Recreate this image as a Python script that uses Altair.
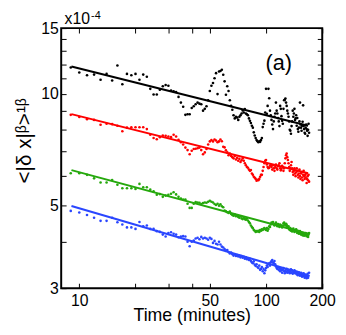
import altair as alt
import pandas as pd

# ---- data (values in units of 1e-4) ----
time_min = [9, 10, 11, 12, 13, 14, 15, 16, 17, 18,
            19, 20, 21, 22, 23, 24, 25, 26, 27, 28,
            29, 30, 31, 32, 33, 34, 35, 36, 37, 38,
            39, 40, 41, 42, 43, 44, 45, 46, 47, 48,
            49, 50, 51, 52, 53, 54, 55, 56, 57, 58,
            59, 60, 61, 62, 63, 64, 65, 66, 67, 68,
            69, 70, 71, 72, 73, 74, 75, 76, 77, 78,
            79, 80, 81, 82, 83, 84, 85, 86, 87, 88,
            89, 90, 91, 92, 93, 94, 95, 96, 97, 98,
            99, 100, 101, 102, 103, 104, 105, 106, 107, 108,
            109, 110, 111, 112, 113, 114, 115, 116, 117, 118,
            119, 120, 121, 122, 123, 124, 125, 126, 127, 128,
            129, 130, 131, 132, 133, 134, 135, 136, 137, 138,
            139, 140, 141, 142, 143, 144, 145, 146, 147, 148,
            149, 150, 151, 152, 153, 154, 155, 156, 157, 158,
            159, 160, 161, 162, 163, 164, 165, 166, 167, 168,
            169, 170]

black = [11.75, 11.4, 11.2, 11.25, 10.9, 11.3, 10.85, 11.9, 10.6, 11.3,
         11.2, 11.3, 10.9, 11.25, 11.1, 10.3, 9.95, 9.95, 10.25, 10.47,
         10.55, 10.5, 10.2, 10.15, 10.1, 9.8, 9.46, 9.22, 8.77, 8.8,
         8.8, 9.15, 9.25, 9.36, 9.46, 9.4, 9.36, 9.0, 9.1, 9.25,
         9.6, 10.16, 10.5, 10.68, 11.0, 11.35, 9.97, 11.47, 11.5, 11.59,
         11.24, 10.79, 9.93, 10.47, 10.16, 9.6, 9.27, 9.05, 8.75, 8.58,
         8.67, 8.62, 8.5, 8.67, 8.75, 8.84, 9.01, 8.9, 9.09, 8.84,
         8.8, 8.75, 8.58, 8.45, 8.34, 8.2, 8.1, 7.87, 7.72, 7.6,
         7.5, 7.45, 7.4, 7.45, 7.42, 7.5, 7.6, 8.13, 8.3, 8.46,
         8.9, 10.3, 8.83, 9.27, 10.3, 9.72, 9.0, 8.75, 8.5, 8.26,
         8.03, 8.42, 8.67, 8.84, 9.46, 9.0, 8.84, 8.6, 8.42, 8.18,
         9.27, 9.1, 8.7, 8.45, 8.3, 9.1, 9.6, 9.63, 9.7, 9.46,
         9.27, 9.0, 8.84, 8.67, 8.42, 8.0, 7.95, 7.8, 8.18, 8.42,
         9.0, 8.67, 8.84, 9.1, 8.5, 8.58, 8.75, 8.2, 8.6, 8.03,
         7.9, 8.1, 8.42, 9.46, 8.26, 8.1, 7.95, 8.2, 8.4, 9.3,
         8.18, 8.03, 7.85, 7.8, 8.1, 8.26, 8.03, 7.95, 7.7, 8.0,
         8.3, 7.85]

red = [8.77, 8.65, 8.54, 8.5, 8.25, 8.3, 8.28, 8.2, 7.92, 8.1,
       8.12, 8.12, 8.12, 8.12, 8.03, 7.75, 7.6, 7.54, 7.64, 7.72,
       7.7, 7.67, 7.64, 7.75, 7.67, 7.52, 7.4, 7.3, 7.16, 7.05,
       6.87, 7.02, 7.1, 7.11, 7.13, 7.16, 7.05, 6.87, 6.95, 7.1,
       7.3, 7.44, 7.5, 7.44, 7.53, 7.48, 7.4, 7.44, 7.53, 7.45,
       7.2, 7.17, 7.04, 6.95, 6.83, 6.9, 6.8, 6.75, 6.7, 6.8,
       6.65, 6.72, 6.6, 6.68, 6.55, 6.62, 6.7, 6.6, 6.5, 6.42,
       6.35, 6.32, 6.25, 6.2, 6.23, 6.1, 6.05, 5.98, 5.94, 5.9,
       5.83, 5.87, 5.85, 5.9, 5.98, 6.05, 6.05, 6.2, 6.35, 6.5,
       6.6, 6.63, 6.45, 6.35, 6.3, 6.32, 6.4, 6.42, 6.35, 6.25,
       6.42, 6.3, 6.2, 6.35, 6.45, 6.3, 6.25, 6.38, 6.42, 6.5,
       6.3, 6.22, 6.28, 6.4, 6.35, 6.2, 6.3, 6.5, 6.7, 6.83,
       6.9, 6.75, 6.63, 6.5, 6.35, 6.2, 6.3, 6.42, 6.55, 6.3,
       6.16, 6.05, 6.2, 6.3, 6.1, 6.0, 6.15, 6.3, 6.2, 6.05,
       5.95, 6.1, 6.25, 6.0, 5.9, 6.1, 6.15, 5.95, 5.85, 6.05,
       6.2, 6.0, 5.9, 6.05, 5.95, 6.1, 5.75, 5.9, 6.0, 5.85,
       6.05, 5.8]

green = [6.11, 6.11, 6.05, 5.92, 5.77, 5.77, 5.86, 5.69, 5.57, 5.57,
         5.57, 5.54, 5.72, 5.6, 5.6, 5.52, 5.46, 5.35, 5.37, 5.28,
         5.32, 5.35, 5.38, 5.43, 5.36, 5.28, 5.22, 5.19, 5.19, 5.06,
         4.93, 4.93, 5.06, 5.11, 5.1, 5.09, 5.05, 5.08, 5.1, 5.09,
         5.12, 5.15, 5.12, 5.1, 5.05, 5.02, 5.06, 5.0, 5.04, 4.98,
         4.95, 4.85, 4.83, 4.8, 4.78, 4.82, 4.75, 4.72, 4.7, 4.73,
         4.68, 4.7, 4.66, 4.64, 4.68, 4.62, 4.6, 4.64, 4.6, 4.58,
         4.62, 4.56, 4.52, 4.48, 4.42, 4.38, 4.35, 4.3, 4.28, 4.25,
         4.27, 4.26, 4.28, 4.25, 4.3, 4.28, 4.32, 4.3, 4.33, 4.35,
         4.32, 4.3, 4.35, 4.28, 4.33, 4.4, 4.38, 4.45, 4.5, 4.48,
         4.52, 4.45, 4.42, 4.47, 4.5, 4.44, 4.4, 4.46, 4.42, 4.38,
         4.45, 4.43, 4.4, 4.37, 4.42, 4.48, 4.5, 4.45, 4.42, 4.47,
         4.44, 4.4, 4.36, 4.4, 4.33, 4.3, 4.35, 4.28, 4.32, 4.26,
         4.3, 4.34, 4.28, 4.25, 4.3, 4.27, 4.32, 4.26, 4.22, 4.28,
         4.25, 4.2, 4.24, 4.27, 4.2, 4.18, 4.23, 4.2, 4.16, 4.22,
         4.19, 4.15, 4.2, 4.17, 4.22, 4.18, 4.14, 4.2, 4.17, 4.12,
         4.18, 4.22]

blue = [4.84, 4.79, 4.72, 4.64, 4.55, 4.55, 4.64, 4.51, 4.45, 4.37,
        4.37, 4.33, 4.52, 4.4, 4.42, 4.33, 4.33, 4.27, 4.25, 4.18,
        4.13, 4.22, 4.24, 4.2, 4.18, 4.11, 4.13, 4.14, 4.13, 4.0,
        3.89, 4.0, 4.03, 4.08, 4.1, 4.06, 4.12, 4.08, 4.1, 4.08,
        4.05, 4.1, 4.07, 3.97, 4.02, 3.95, 3.93, 4.0, 3.93, 3.88,
        3.86, 3.82, 3.78, 3.8, 3.75, 3.72, 3.74, 3.7, 3.67, 3.7,
        3.66, 3.68, 3.65, 3.67, 3.63, 3.66, 3.62, 3.64, 3.6, 3.63,
        3.59, 3.61, 3.57, 3.6, 3.55, 3.52, 3.5, 3.54, 3.47, 3.44,
        3.48, 3.42, 3.4, 3.45, 3.36, 3.38, 3.42, 3.33, 3.38, 3.29,
        3.35, 3.4, 3.45, 3.42, 3.48, 3.5, 3.45, 3.52, 3.55, 3.57,
        3.52, 3.5, 3.55, 3.48, 3.43, 3.4, 3.38, 3.42, 3.36, 3.4,
        3.33, 3.38, 3.35, 3.3, 3.36, 3.4, 3.33, 3.29, 3.35, 3.32,
        3.38, 3.3, 3.34, 3.36, 3.31, 3.29, 3.33, 3.37, 3.3, 3.35,
        3.28, 3.32, 3.3, 3.35, 3.29, 3.33, 3.3, 3.27, 3.32, 3.25,
        3.29, 3.31, 3.26, 3.24, 3.28, 3.3, 3.25, 3.22, 3.27, 3.24,
        3.29, 3.23, 3.2, 3.26, 3.22, 3.25, 3.19, 3.23, 3.28, 3.2,
        3.24, 3.3]

# fitted power-law lines (end points)
fit_time = [9.08, 168]
fit_black = [11.83, 8.20]
fit_red = [8.81, 6.11]
fit_green = [6.23, 4.20]
fit_blue = [4.99, 3.25]

series_names = ["black", "red", "green", "blue"]
series_colors = ["#000000", "#ff0000", "#25a80c", "#2a46ff"]

x_ticks = [10, 20, 30, 40, 50, 100, 200]
x_labels = [10, 50, 100, 200]
y_ticks = [3, 4, 5, 6, 7, 8, 9, 10, 11, 12, 13, 14, 15]
y_labels = [3, 5, 10, 15]

panel_t = [117]
panel_v = [12.1]
panel_text = ["(a)"]

exp_t = [8.34, 11.56]
exp_v = [15.37, 15.84]
exp_text = ["x10", "-4"]
exp_size = [16, 11]

# ---- tables ----
pt_rows = []
for name, vals in zip(series_names, [black, red, green, blue]):
    for t, v in zip(time_min, vals):
        pt_rows.append({"series": name, "t": t, "v": v})
pts = pd.DataFrame(pt_rows)

fit_rows = []
for name, vals in zip(series_names, [fit_black, fit_red, fit_green, fit_blue]):
    for t, v in zip(fit_time, vals):
        fit_rows.append({"series": name, "t": t, "v": v})
fits = pd.DataFrame(fit_rows)

panel = pd.DataFrame({"t": panel_t, "v": panel_v, "label": panel_text})
expo = pd.DataFrame({"t": exp_t, "v": exp_v, "label": exp_text, "size": exp_size})

FONT = "Liberation Sans, Arial, Helvetica, DejaVu Sans"

xscale = alt.Scale(type="log", domain=[8, 200], nice=False)
yscale = alt.Scale(type="log", domain=[3, 15], nice=False)
color = alt.Color("series:N", scale=alt.Scale(domain=series_names, range=series_colors), legend=None)

x_expr = f"indexof({x_labels}, datum.value) >= 0 ? format(datum.value, 'd') : ''"
y_expr = f"indexof({y_labels}, datum.value) >= 0 ? format(datum.value, 'd') : ''"

common_axis = dict(domain=False, grid=False, offset=-5, tickSize=5, tickColor="black",
                   tickWidth=1, labelOverlap=False, labelFlush=False)

x_bottom = alt.Axis(orient="bottom", values=x_ticks, labelExpr=x_expr, labelPadding=5,
                    labelFontSize=16, labelFont=FONT, labelColor="black",
                    title="Time (minutes)", titleFont=FONT, titleFontSize=18,
                    titleFontWeight="normal", titleColor="black",
                    titleBaseline="alphabetic", titleY=38, **common_axis)
y_left = alt.Axis(orient="left", values=y_ticks, labelExpr=y_expr, labelPadding=3,
                  labelFontSize=16, labelFont=FONT, labelColor="black",
                  title="<|δ x|ᵝ>¹ᵝ", titleFont=FONT, titleFontSize=21,
                  titleFontWeight="normal", titleColor="black",
                  titleAngle=-90, titleAlign="center", titleBaseline="middle",
                  titleX=-42, titleY=114, **common_axis)
x_top = alt.Axis(orient="top", values=x_ticks, labels=False, title="", **common_axis)
y_right = alt.Axis(orient="right", values=y_ticks, labels=False, title="", **common_axis)

points = alt.Chart(pts).mark_circle(size=7, opacity=1).encode(
    x=alt.X("t:Q", scale=xscale, axis=x_bottom),
    y=alt.Y("v:Q", scale=yscale, axis=y_left),
    color=color,
)

lines = alt.Chart(fits).mark_line(strokeWidth=2).encode(
    x=alt.X("t:Q", scale=xscale, axis=x_top),
    y=alt.Y("v:Q", scale=yscale, axis=y_right),
    color=color,
    detail="series:N",
)

panel_label = alt.Chart(panel).mark_text(font=FONT, fontSize=22, align="center",
                                         baseline="middle", color="black").encode(
    x=alt.X("t:Q", scale=xscale, axis=None),
    y=alt.Y("v:Q", scale=yscale, axis=None),
    text="label:N",
)

expo_label = alt.Chart(expo).mark_text(font=FONT, align="left", baseline="alphabetic",
                                       color="black").encode(
    x=alt.X("t:Q", scale=xscale, axis=None),
    y=alt.Y("v:Q", scale=yscale, axis=None),
    text="label:N",
    size=alt.Size("size:Q", scale=None, legend=None),
)

chart = alt.layer(points, lines, panel_label, expo_label).resolve_axis(
    x="independent", y="independent"
).properties(
    width=265, height=264,
    autosize=alt.AutoSizeParams(type="none"),
    padding={"left": 54, "top": 18, "right": 16, "bottom": 37},
    background="white",
).configure_view(stroke="black", strokeWidth=2)

chart.save("out.html", embed_options={"renderer": "svg", "actions": False})
